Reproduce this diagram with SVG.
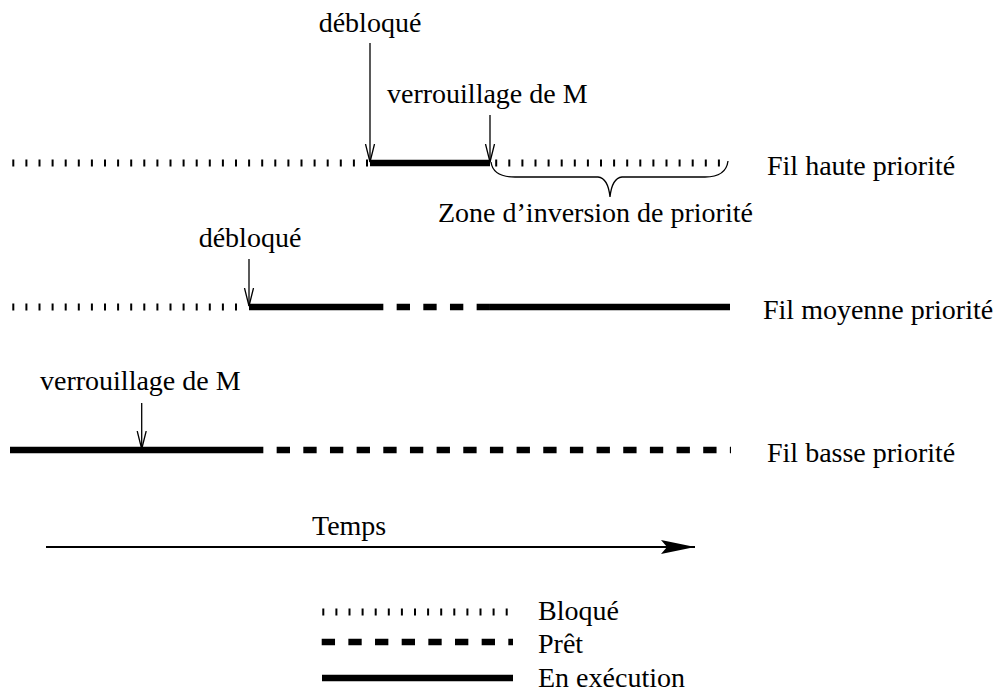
<svg xmlns="http://www.w3.org/2000/svg" width="1006" height="693" viewBox="0 0 1006 693" font-family="'Liberation Serif', 'DejaVu Serif', serif">
<style>
text{font-family:"Liberation Serif","DejaVu Serif",serif;font-size:28px;fill:#000}
.blk{stroke:#000;stroke-width:7;stroke-dasharray:2 11.1;fill:none}
.rdy{stroke:#000;stroke-width:6.5;stroke-dasharray:13.33 13.33;fill:none}
.run{stroke:#000;stroke-width:6.5;fill:none}
.ann{stroke:#000;stroke-width:1.3;fill:none}
</style>
<defs>
<marker id="open" markerWidth="20" markerHeight="12" refX="18" refY="5" orient="auto" markerUnits="userSpaceOnUse" viewBox="0 0 20 10">
<path d="M0,0.5 L18,5 L0,9.5" fill="none" stroke="#000" stroke-width="1.3"/>
</marker>
<marker id="solidHead" markerWidth="36" markerHeight="16" refX="34" refY="8" orient="auto" markerUnits="userSpaceOnUse" viewBox="0 0 36 16">
<path d="M0,1 L34,8 L0,15 L6,8 Z" fill="#000"/>
</marker>
</defs>
<rect width="1006" height="693" fill="#fff"/>

<g id="high-thread">
<line class="blk" x1="12.3" y1="163" x2="368" y2="163"/>
<line class="run" x1="370" y1="163" x2="490" y2="163"/>
<line class="blk" x1="495.2" y1="163" x2="724" y2="163"/>
<text x="767" y="175">Fil haute priorité</text>
</g>

<g id="medium-thread">
<line class="blk" x1="12.3" y1="307" x2="238" y2="307"/>
<line class="run" x1="249" y1="307" x2="370" y2="307"/>
<line class="rdy" x1="370" y1="307" x2="490" y2="307"/>
<line class="run" x1="490" y1="307" x2="730" y2="307"/>
<text x="763" y="319">Fil moyenne priorité</text>
</g>

<g id="low-thread">
<line class="run" x1="10" y1="450" x2="250" y2="450"/>
<line class="rdy" x1="250" y1="450" x2="731" y2="450"/>
<text x="767" y="462">Fil basse priorité</text>
</g>

<g id="inversion-zone">
<path class="ann" stroke-width="1.5" d="M491,162 Q493,177 515,177 L598,177 Q608,178 610,197 Q612,178 622,177 L705,177 Q726,177 728,161"/>
<text x="438" y="222">Zone d’inversion de priorité</text>
</g>

<g id="labels">
<text x="370" y="32" text-anchor="middle">débloqué</text>
<text x="387" y="103">verrouillage de M</text>
<text x="250" y="247" text-anchor="middle">débloqué</text>
<text x="40" y="390">verrouillage de M</text>
</g>

<g id="time-axis">
<line x1="46" y1="547" x2="695" y2="547" stroke="#000" stroke-width="2.2" marker-end="url(#solidHead)"/>
<text x="312" y="535">Temps</text>
</g>

<g id="legend">
<line class="blk" x1="322.3" y1="612" x2="512" y2="612"/>
<text x="538" y="620">Bloqué</text>
<line class="rdy" x1="321.7" y1="642" x2="513" y2="642"/>
<text x="538" y="653">Prêt</text>
<line class="run" x1="322" y1="678" x2="513" y2="678"/>
<text x="538" y="687">En exécution</text>
</g>

<g id="connectors">
<line class="ann" x1="370" y1="43" x2="370" y2="162" marker-end="url(#open)"/>
<line class="ann" x1="490" y1="115" x2="490" y2="162" marker-end="url(#open)"/>
<line class="ann" x1="249" y1="259" x2="249" y2="306" marker-end="url(#open)"/>
<line class="ann" x1="141.7" y1="403" x2="141.7" y2="449" marker-end="url(#open)"/>
</g>
</svg>
